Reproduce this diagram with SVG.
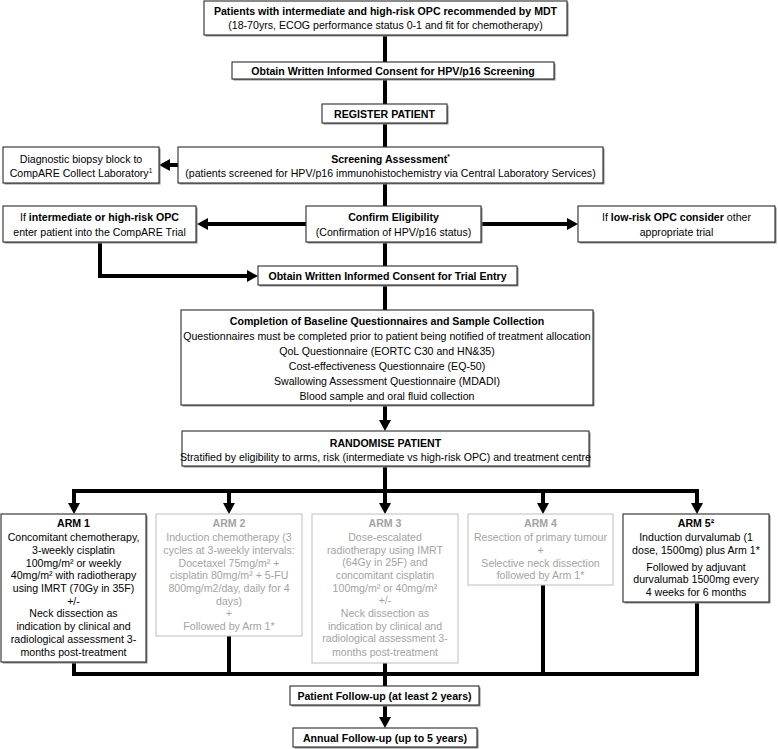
<svg xmlns="http://www.w3.org/2000/svg" width="778" height="749" viewBox="0 0 778 749">
<defs>
<marker id="ah" viewBox="0 0 12 12" refX="1" refY="6" markerWidth="12" markerHeight="12" markerUnits="userSpaceOnUse" orient="auto">
<path d="M0,0 L11,6 L0,12 z" fill="#000"/>
</marker>
<style>
text{font-family:"Liberation Sans",Arial,sans-serif;font-size:10.6px;fill:#000;text-anchor:middle}
.b{font-weight:bold}
.box{fill:#fff;stroke:#2a2a2a;stroke-width:1.1}
.sh{fill:#8a8a8a;stroke:none}
.gbox{fill:#fff;stroke:#c4c4c4;stroke-width:1.1}
.g{fill:#a3a3a3}
.ln{fill:none;stroke:#000;stroke-width:4}
.ar{fill:none;stroke:#000;stroke-width:4;marker-end:url(#ah)}
.sup{font-size:6.5px}
</style>
</defs>
<rect width="778" height="749" fill="#fff"/>

<g id="connectors">
<path class="ln" d="M385,35 V62 M385,79 V104 M385,123 V147 M385,183 V206 M385,242 V266 M385,286 V310"/>
<path class="ar" d="M385,406 V421"/>
<path class="ln" d="M385,466 V491 M72,491 H699"/>
<path class="ar" d="M74,491 V504"/>
<path class="ar" d="M229,491 V504"/>
<path class="ar" d="M385,491 V504"/>
<path class="ar" d="M543,491 V504"/>
<path class="ar" d="M697,491 V504"/>
<path class="ln" d="M74,662 V674 H697 V602 M229,636 V674 M385,663 V686 M543,585 V674"/>
<path class="ar" d="M385,705 V718"/>
<path class="ar" d="M178,165 H169"/>
<path class="ar" d="M306,224 H207"/>
<path class="ar" d="M481,224 H568"/>
<path class="ar" d="M100,242 V276 H248"/>
</g>

<g id="n-start">
<rect class="sh" x="205.5" y="2.5" width="363" height="34"/>
<rect class="box" x="204" y="1" width="363" height="34"/>
<text class="b" x="385.5" y="15">Patients with intermediate and high-risk OPC recommended by MDT</text>
<text x="385.5" y="29">(18-70yrs, ECOG performance status 0-1 and fit for chemotherapy)</text>
</g>

<g id="n-consent-screen">
<rect class="sh" x="233.5" y="63.5" width="322" height="17"/>
<rect class="box" x="232" y="62" width="322" height="17"/>
<text class="b" x="393" y="74.5">Obtain Written Informed Consent for HPV/p16 Screening</text>
</g>

<g id="n-register">
<rect class="sh" x="323.5" y="105.5" width="125" height="19"/>
<rect class="box" x="322" y="104" width="125" height="19"/>
<text class="b" x="384.5" y="117.5">REGISTER PATIENT</text>
</g>

<g id="n-screening">
<rect class="sh" x="179.5" y="148.5" width="425" height="36"/>
<rect class="box" x="178" y="147" width="425" height="36"/>
<text class="b" x="390.5" y="162.5">Screening Assessment<tspan class="sup" dy="-4">*</tspan></text>
<text x="390.5" y="177">(patients screened for HPV/p16 immunohistochemistry via Central Laboratory Services)</text>
</g>

<g id="n-biopsy">
<rect class="sh" x="4.5" y="148.5" width="156" height="36"/>
<rect class="box" x="3" y="147" width="156" height="36"/>
<text x="81" y="162.5">Diagnostic biopsy block to</text>
<text x="81" y="177">CompARE Collect Laboratory<tspan class="sup" dy="-4">1</tspan></text>
</g>

<g id="n-confirm">
<rect class="sh" x="307.5" y="207.5" width="175" height="36"/>
<rect class="box" x="306" y="206" width="175" height="36"/>
<text class="b" x="393.5" y="221">Confirm Eligibility</text>
<text x="393.5" y="236">(Confirmation of HPV/p16 status)</text>
</g>

<g id="n-enter">
<rect class="sh" x="4.5" y="207.5" width="193" height="36"/>
<rect class="box" x="3" y="206" width="193" height="36"/>
<text x="99.5" y="221">If <tspan class="b">intermediate or high-risk OPC</tspan></text>
<text x="99.5" y="236">enter patient into the CompARE Trial</text>
</g>

<g id="n-lowrisk">
<rect class="sh" x="579.5" y="207.5" width="197" height="36"/>
<rect class="box" x="578" y="206" width="197" height="36"/>
<text x="676.5" y="221">If <tspan class="b">low-risk OPC consider</tspan> other</text>
<text x="676.5" y="236">appropriate trial</text>
</g>

<g id="n-consent-trial">
<rect class="sh" x="259.5" y="267.5" width="259" height="19"/>
<rect class="box" x="258" y="266" width="259" height="19"/>
<text class="b" x="387.5" y="279.5">Obtain Written Informed Consent for Trial Entry</text>
</g>

<g id="n-baseline">
<rect class="sh" x="182.5" y="311.5" width="412" height="95"/>
<rect class="box" x="181" y="310" width="412" height="95"/>
<text class="b" x="387" y="325">Completion of Baseline Questionnaires and Sample Collection</text>
<text x="387" y="339.5">Questionnaires must be completed prior to patient being notified of treatment allocation</text>
<text x="387" y="355">QoL Questionnaire (EORTC C30 and HN&amp;35)</text>
<text x="387" y="370">Cost-effectiveness Questionnaire (EQ-50)</text>
<text x="387" y="385">Swallowing Assessment Questionnaire (MDADI)</text>
<text x="387" y="400">Blood sample and oral fluid collection</text>
</g>

<g id="n-randomise">
<rect class="sh" x="183.5" y="432.5" width="407" height="35"/>
<rect class="box" x="182" y="431" width="407" height="35"/>
<text class="b" x="385.5" y="447">RANDOMISE PATIENT</text>
<text x="385.5" y="461">Stratified by eligibility to arms, risk (intermediate vs high-risk OPC) and treatment centre</text>
</g>

<g id="n-arm1">
<rect class="sh" x="2.5" y="515.5" width="145" height="148"/>
<rect class="box" x="1" y="514" width="145" height="148"/>
<text class="b" x="73.5" y="527">ARM 1</text>
<text x="73.5" y="540.5">Concomitant chemotherapy,</text>
<text x="73.5" y="553.5">3-weekly cisplatin</text>
<text x="73.5" y="566.5">100mg/m² or weekly</text>
<text x="73.5" y="579">40mg/m² with radiotherapy</text>
<text x="73.5" y="592">using IMRT (70Gy in 35F)</text>
<text x="73.5" y="605">+/-</text>
<text x="73.5" y="617">Neck dissection as</text>
<text x="73.5" y="630">indication by clinical and</text>
<text x="73.5" y="643">radiological assessment 3-</text>
<text x="73.5" y="656">months post-treatment</text>
</g>

<g id="n-arm2">
<rect class="gbox" x="156" y="514" width="146" height="122"/>
<text class="b g" x="229" y="527">ARM 2</text>
<text class="g" x="229" y="540.5">Induction chemotherapy (3</text>
<text class="g" x="229" y="553.5">cycles at 3-weekly intervals:</text>
<text class="g" x="229" y="566.5">Docetaxel 75mg/m² +</text>
<text class="g" x="229" y="579">cisplatin 80mg/m² + 5-FU</text>
<text class="g" x="229" y="592">800mg/m2/day, daily for 4</text>
<text class="g" x="229" y="605">days)</text>
<text class="g" x="229" y="617">+</text>
<text class="g" x="229" y="630">Followed by Arm 1*</text>
</g>

<g id="n-arm3">
<rect class="gbox" x="312" y="514" width="146" height="149"/>
<text class="b g" x="385" y="527">ARM 3</text>
<text class="g" x="385" y="540.5">Dose-escalated</text>
<text class="g" x="385" y="553.5">radiotherapy using IMRT</text>
<text class="g" x="385" y="566">(64Gy in 25F) and</text>
<text class="g" x="385" y="579">concomitant cisplatin</text>
<text class="g" x="385" y="592">100mg/m² or 40mg/m²</text>
<text class="g" x="385" y="604">+/-</text>
<text class="g" x="385" y="617">Neck dissection as</text>
<text class="g" x="385" y="630">indication by clinical and</text>
<text class="g" x="385" y="642">radiological assessment 3-</text>
<text class="g" x="385" y="656">months post-treatment</text>
</g>

<g id="n-arm4">
<rect class="gbox" x="468" y="514" width="145" height="71"/>
<text class="b g" x="540.5" y="527">ARM 4</text>
<text class="g" x="540.5" y="540.5">Resection of primary tumour</text>
<text class="g" x="540.5" y="553.5">+</text>
<text class="g" x="540.5" y="566.5">Selective neck dissection</text>
<text class="g" x="540.5" y="579">followed by Arm 1*</text>
</g>

<g id="n-arm5">
<rect class="sh" x="624.5" y="515.5" width="146" height="88"/>
<rect class="box" x="623" y="514" width="146" height="88"/>
<text class="b" x="696" y="527">ARM 5²</text>
<text x="696" y="540.5">Induction durvalumab (1</text>
<text x="696" y="553.5">dose, 1500mg) plus Arm 1*</text>
<text x="696" y="570.5">Followed by adjuvant</text>
<text x="696" y="583">durvalumab 1500mg every</text>
<text x="696" y="596">4 weeks for 6 months</text>
</g>

<g id="n-followup">
<rect class="sh" x="291.5" y="687.5" width="189" height="19"/>
<rect class="box" x="290" y="686" width="189" height="19"/>
<text class="b" x="384.5" y="699.5">Patient Follow-up (at least 2 years)</text>
</g>

<g id="n-annual">
<rect class="sh" x="294.5" y="729.5" width="184" height="19"/>
<rect class="box" x="293" y="728" width="184" height="19"/>
<text class="b" x="385" y="741.5">Annual Follow-up (up to 5 years)</text>
</g>
</svg>
